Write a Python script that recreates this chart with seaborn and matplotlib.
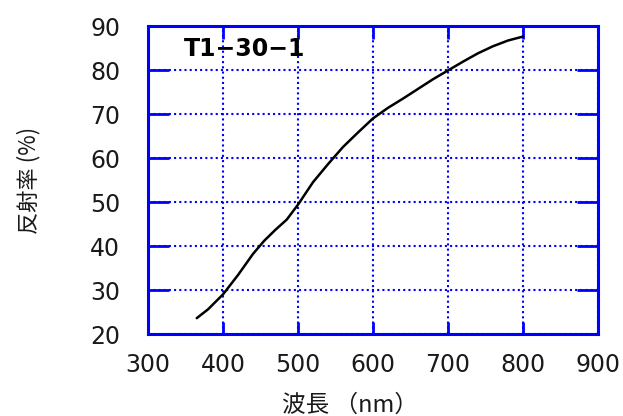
import matplotlib
matplotlib.use("Agg")
import matplotlib.pyplot as plt
import seaborn as sns
import pandas as pd

wavelength = [365, 380, 400, 420, 440, 455, 470, 485, 500, 520, 540, 560, 580,
              600, 620, 640, 660, 680, 700, 720, 740, 760, 780, 800]
reflectance = [23.6, 25.6, 29.0, 33.4, 38.2, 41.2, 43.7, 46.0, 49.4, 54.5, 58.6,
               62.5, 65.8, 69.0, 71.4, 73.5, 75.7, 77.9, 79.9, 81.9, 83.8, 85.4,
               86.7, 87.6]
x_ticks = [300, 400, 500, 600, 700, 800, 900]
y_ticks = [20, 30, 40, 50, 60, 70, 80, 90]
title = "T1\u221230\u22121"
xlabel = "波長 （nm）"
ylabel = "反射率 (%)"

sns.set_style("white")
plt.rcParams['font.family'] = ['Noto Sans CJK JP', 'DejaVu Sans']

df = pd.DataFrame({"wl": wavelength, "r": reflectance})

fig = plt.figure(figsize=(6.23, 4.16), dpi=100)
ax = fig.add_axes([148/623, 1-334/416, (598-148)/623, (334-26)/416])

sns.lineplot(data=df, x="wl", y="r", ax=ax, color="black", linewidth=1.8)

blue = "#0000ff"
ax.set_xlim(300, 900)
ax.set_ylim(20, 90)
ax.set_xticks(x_ticks)
ax.set_yticks(y_ticks)
ax.grid(True, color=blue, linestyle=(0, (1, 1.5)), linewidth=1.5)
for s in ax.spines.values():
    s.set_color(blue)
    s.set_linewidth(2.2)
    s.set_visible(True)
ax.tick_params(axis='y', direction='in', length=15, width=2, color=blue,
               left=True, right=True, labelsize=17, pad=20, labelcolor='#1a1a1a')
ax.tick_params(axis='x', direction='in', length=9, width=2, color=blue,
               bottom=True, top=True, labelsize=17, pad=14, labelcolor='#1a1a1a')
for lab in ax.get_xticklabels() + ax.get_yticklabels():
    lab.set_family(['DejaVu Sans'])
ax.set_xlabel(xlabel, fontsize=17, color='#1a1a1a')
ax.xaxis.set_label_coords((350 - 148) / 450, -(405 - 334) / 308)
ax.xaxis.label.set_va('center')
ax.set_ylabel(ylabel, fontsize=16, labelpad=36, color='#1a1a1a')
ax.text(0.08, 0.925, title, transform=ax.transAxes, fontsize=17,
        fontweight='bold', ha='left', va='center', color='black',
        family=['DejaVu Sans'])

fig.savefig("out.png", dpi=100)
